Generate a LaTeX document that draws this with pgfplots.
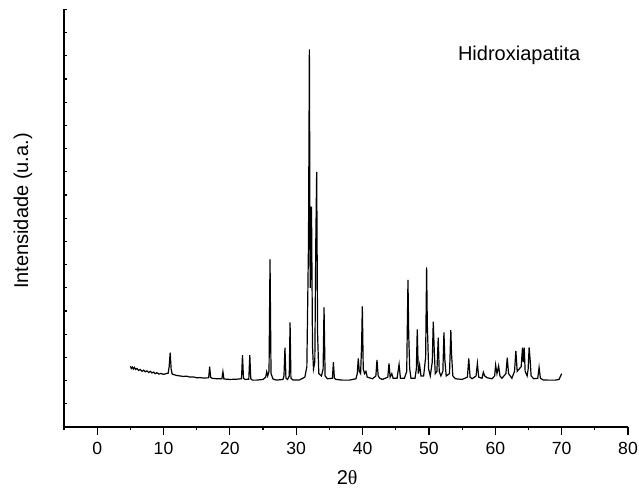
\documentclass[border=0pt]{standalone}
\usepackage{pgfplots}
\pgfplotsset{compat=1.18}
\usepackage{fontspec}
\setmainfont{Liberation Sans}
\newfontfamily\symb{Liberation Serif}

\begin{document}
\begin{tikzpicture}
\begin{axis}[
    scale only axis,
    width=282pt, height=208.8pt,
    xmin=-5, xmax=80, ymin=0, ymax=18,
    axis x line=bottom, axis y line=left,
    axis line style={-, line width=0.6pt},
    tick align=outside,
    xtick={0,10,...,80},
    minor xtick={-5,5,...,75},
    major tick length=4pt, minor tick length=1.7pt,
    tick style={black, line width=0.6pt},
    ytick=\empty,
    extra y ticks={1,...,18},
    extra y tick labels={},
    extra y tick style={tick align=inside, major tick length=1.5pt},
    /pgf/number format/assume math mode=true,
    ticklabel style={font=\fontsize{8.8}{10}\selectfont},
    xlabel={2{\symb θ}},
    ylabel={Intensidade (u.a.)},
    label style={font=\fontsize{10}{12}\selectfont},
    every axis x label/.style={at={(axis description cs:0.502,-0.122)}, anchor=center},
    every axis y label/.style={at={(axis description cs:-0.0727,0.517)}, rotate=90, anchor=center},
]
\addplot[black, line width=0.6pt] coordinates {
(5.0,2.62) (5.15,2.52) (5.3,2.58) (5.45,2.50) (5.6,2.57) (5.8,2.48) (6.0,2.52) (6.25,2.44) (6.5,2.48) (6.75,2.40) (7.0,2.45) (7.25,2.38) (7.5,2.42) (7.75,2.35) (8.0,2.40) (8.25,2.33) (8.5,2.37) (8.75,2.30) (9.0,2.34) (9.3,2.28) (9.6,2.31) (10.0,2.27) (10.4,2.30) (10.7,2.32) (10.85,2.6)
(11.0,3.2) (11.15,2.5) (11.3,2.28) (12,2.22) (12.5,2.20) (13,2.18) (13.5,2.19) (14,2.15) (14.5,2.16) (15,2.12) (15.5,2.13) (16,2.11) (16.8,2.12) (16.95,2.6) (17.1,2.15) (17.3,2.1)
(18,2.08) (18.8,2.08) (18.95,2.38) (19.1,2.07) (20,2.05) (21,2.06) (21.75,2.08) (21.9,3.1) (22.05,2.1) (22.3,2.05) (22.85,2.06) (23.0,3.1) (23.15,2.08) (23.4,2.02) (24,2.02) (25,2.05) (25.4,2.15) (25.55,2.38) (25.7,2.2) (25.9,2.4)
(26.05,7.23) (26.2,2.3) (26.5,2.07) (27,2.02) (28,2.05) (28.15,2.2) (28.3,3.42) (28.45,2.1) (28.7,2.05) (28.95,2.2) (29.07,4.51) (29.2,2.1) (29.5,2.03) (30.5,2.03) (31.3,2.15) (31.6,2.6) (31.85,8)
(31.98,16.28) (32.1,6) (32.2,7) (32.3,9.5) (32.45,3.5) (32.6,2.5) (32.8,2.8) (32.95,8) (33.08,11.0) (33.22,4) (33.4,2.3) (33.8,2.2) (34.05,2.5) (34.19,5.16) (34.35,2.2) (34.7,2.08) (35.45,2.1) (35.6,2.79) (35.75,2.1) (36,2.05)
(37,2.02) (38,2.02) (39,2.08) (39.2,2.3) (39.35,2.96) (39.5,2.4) (39.7,2.3) (39.85,3.5) (39.96,5.2) (40.1,2.5) (40.3,2.3) (40.5,2.4) (40.7,2.15) (41.5,2.08) (42.0,2.2) (42.17,2.89) (42.35,2.2) (42.6,2.1) (43,2.05)
(43.8,2.15) (43.98,2.74) (44.15,2.15) (44.4,2.3) (44.6,2.1) (45.2,2.1) (45.5,2.7) (45.7,2.1) (46.3,2.1) (46.65,2.4) (46.84,6.34) (46.95,4.0) (47.1,2.5) (47.3,2.1) (47.9,2.1) (48.1,2.5) (48.24,4.21) (48.4,2.3) (48.6,2.67) (48.8,2.2)
(49.2,2.2) (49.5,3.0) (49.65,6.88) (49.75,4.5) (49.95,2.5) (50.2,2.2) (50.5,2.8) (50.65,4.54) (50.8,3.3) (50.95,2.3) (51.2,2.4) (51.4,3.85) (51.55,2.4) (51.8,2.2) (52.1,2.4) (52.26,4.08) (52.4,2.89) (52.6,2.2) (53.1,2.3)
(53.3,4.18) (53.4,3.18) (53.6,2.2) (54,2.08) (55,2.05) (55.8,2.15) (56.0,2.96) (56.2,2.15) (56.5,2.08) (57.1,2.2) (57.3,2.74) (57.5,2.15) (58.0,2.1) (58.2,2.36) (58.4,2.2) (58.8,2.12) (59.5,2.08) (59.9,2.2) (60.05,2.67)
(60.25,2.3) (60.5,2.63) (60.7,2.2) (61.0,2.1) (61.6,2.3) (61.8,2.99) (62.0,2.3) (62.5,2.1) (62.9,2.4) (63.1,3.28) (63.3,2.4) (63.6,2.5) (63.9,2.6) (64.1,3.42) (64.2,2.8) (64.36,3.42) (64.5,2.4) (64.8,2.2) (64.95,2.5)
(65.1,3.43) (65.25,2.9) (65.4,2.2) (65.8,2.08) (66.4,2.1) (66.6,2.57) (66.8,2.1) (67.2,2.03) (68,2.02) (69,2.02) (69.6,2.05) (69.85,2.2) (70.0,2.3)
};
\node[anchor=base, font=\fontsize{10}{12}\selectfont] at (axis cs:63.6,15.78) {Hidroxiapatita};
\end{axis}
\pgfresetboundingbox
\path ([xshift=-32pt, yshift=-31pt]current axis.south west) rectangle ([xshift=5.5pt, yshift=4.7pt]current axis.north east);
\end{tikzpicture}
\end{document}
